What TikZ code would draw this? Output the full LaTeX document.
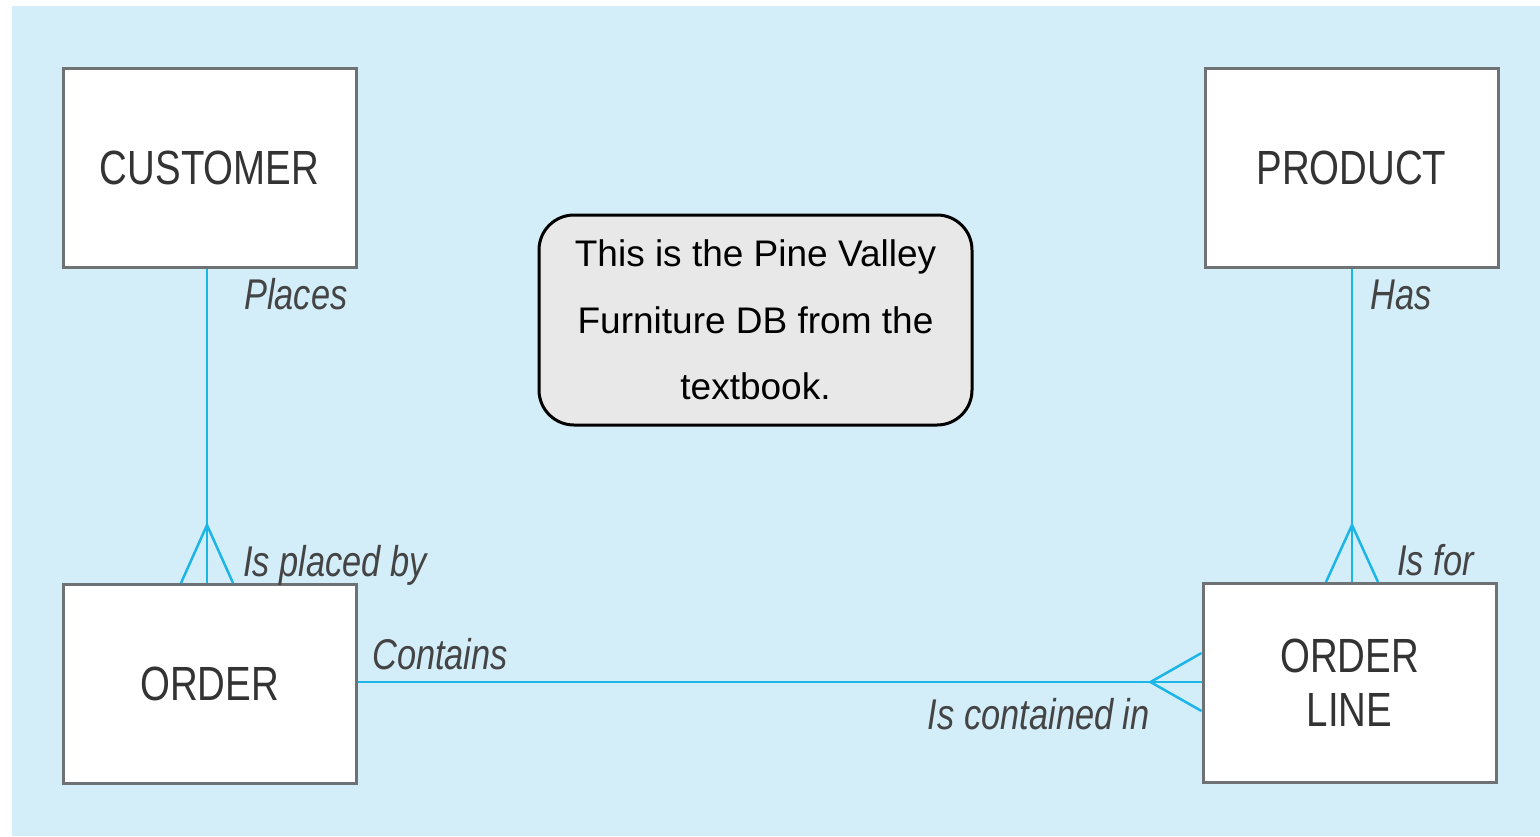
\documentclass[tikz,border=0pt]{standalone}
\usepackage{fontspec}
\setmainfont{Liberation Sans}
\newfontfamily\narrowfont[FakeStretch=0.8]{Liberation Sans}
\usetikzlibrary{calc}
\definecolor{bg}{HTML}{D3EDF9}
\definecolor{rel}{HTML}{1CB5E8}
\definecolor{boxline}{HTML}{6E7275}
\definecolor{txt}{HTML}{333333}
\definecolor{lbl}{HTML}{444444}
\definecolor{notefill}{HTML}{E8E8E8}
\begin{document}
\begin{tikzpicture}[x=1pt,y=-1pt,
  entity/.style={draw=boxline, line width=3pt, fill=white, minimum width=293pt, minimum height=199pt,
    inner sep=0pt, align=center, text=txt, font=\narrowfont\fontsize{48}{54}\selectfont},
  note/.style={draw=black, line width=3pt, fill=notefill, rounded corners=35pt, minimum width=433pt,
    minimum height=210pt, inner sep=0pt, align=center, text=black, font=\fontsize{37}{66.5}\selectfont},
  relline/.style={draw=rel, line width=2.5pt},
  lab/.style={inner sep=0pt, text=lbl, font=\narrowfont\itshape\fontsize{43}{48}\selectfont}]
\useasboundingbox (0,0) rectangle (1540,836);
\fill[bg] (12,6) rectangle (1540,836);

\node[entity] (cust) at (209.5,167.5) {CUSTOMER};
\node[entity] (prod) at (1351.5,167.5) {PRODUCT};
\node[entity] (ord) at (209.5,684) {ORDER};
\node[entity] (ol) at (1349.5,683) {ORDER\\LINE};
\node[note] (nt) at (755.5,320) {This is the Pine Valley\\Furniture DB from the\\textbook.};

% CUSTOMER - ORDER
\coordinate (c1) at ($(cust.south)+(-2.5,0)$);
\coordinate (o1) at ($(ord.north)+(-2.5,0)$);
\coordinate (a1) at ($(o1)+(0,-58)$);
\coordinate (f1l) at ($(o1)+(-26,0)$);
\coordinate (f1r) at ($(o1)+(26,0)$);
\draw[relline] (c1) -- (o1);
\draw[relline] (f1l) -- (a1) -- (f1r);

% PRODUCT - ORDER LINE
\coordinate (o2) at ($(ol.north)+(2.5,0)$);
\coordinate (a2) at ($(o2)+(0,-57)$);
\coordinate (f2l) at ($(o2)+(-26,0)$);
\coordinate (f2r) at ($(o2)+(26,0)$);
\draw[relline] (o2 |- prod.south) -- (o2);
\draw[relline] (f2l) -- (a2) -- (f2r);

% ORDER - ORDER LINE
\coordinate (w3) at ($(ol.west)+(0,-1)$);
\coordinate (a3) at ($(w3)+(-51,0)$);
\coordinate (f3t) at ($(w3)+(0,-29)$);
\coordinate (f3b) at ($(w3)+(0,29)$);
\draw[relline] (ord.east |- w3) -- (w3);
\draw[relline] (f3t) -- (a3) -- (f3b);

% labels
\node[lab, anchor=base west] (l1) at (244,309) {Places};
\node[lab, anchor=base west] (l2) at (243,576) {Is placed by};
\node[lab, anchor=base west] (l3) at (372,669) {Contains};
\node[lab, anchor=base east] (l4) at (1150,729) {Is contained in};
\node[lab, anchor=base west] (l5) at (1370,309) {Has};
\node[lab, anchor=base west] (l6) at (1397,575) {Is for};
\end{tikzpicture}
\end{document}
